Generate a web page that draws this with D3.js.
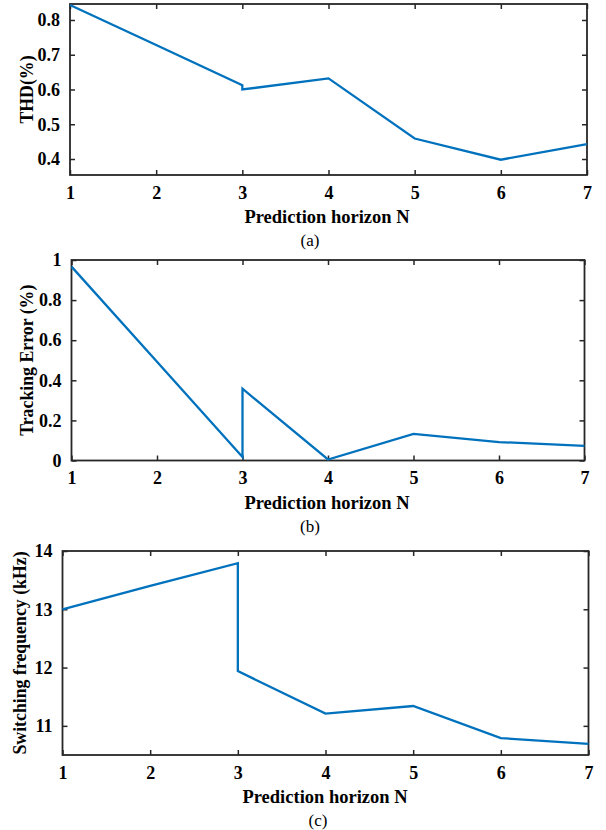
<!DOCTYPE html>
<html>
<head>
<meta charset="utf-8">
<script src="https://cdn.jsdelivr.net/npm/d3@7"></script>
<style>
  body { margin: 0; background: #fff; }
  svg text { font-family: "Liberation Serif", "Times New Roman", serif !important; fill: #000; }
  .tick text { font-size: 18px; font-weight: bold; }
</style>
</head>
<body>
<svg id="chart" width="606" height="830"></svg>
<script>
// prediction horizon (3 repeated: the curves jump there)
var horizon = [1, 2, 3, 3, 4, 5, 6, 7];
var thd = [0.843, 0.728, 0.612, 0.600, 0.632, 0.459, 0.398, 0.443];
var trackErr = [0.967, 0.492, 0.017, 0.358, 0.005, 0.133, 0.092, 0.073];
var swFreq = [13.0, 13.4, 13.79, 11.94, 11.21, 11.34, 10.79, 10.69];

var xTicks = [1, 2, 3, 4, 5, 6, 7];
var thdTicks = [0.4, 0.5, 0.6, 0.7, 0.8];
var errTicks = [0, 0.2, 0.4, 0.6, 0.8, 1];
var freqTicks = [11, 12, 13, 14];

var svg = d3.select("#chart");

function panel(o) {
  var x = d3.scaleLinear().domain([1, 7]).range([o.left, o.right]);
  var y = d3.scaleLinear().domain(o.ydom).range([o.bottom, o.top]);
  var g = svg.append("g");
  var tk = 5;

  // mirrored ticks, inward like matlab
  g.append("g").attr("transform", "translate(0," + o.bottom + ")")
    .call(d3.axisBottom(x).tickValues(xTicks).tickSize(-tk).tickPadding(11).tickFormat(d3.format("d")));
  g.append("g").attr("transform", "translate(0," + o.top + ")")
    .call(d3.axisTop(x).tickValues(xTicks).tickSize(-tk).tickFormat(""));
  g.append("g").attr("transform", "translate(" + o.left + ",0)")
    .call(d3.axisLeft(y).tickValues(o.yticks).tickSize(-tk).tickPadding(10).tickFormat(d3.format("")));
  g.append("g").attr("transform", "translate(" + o.right + ",0)")
    .call(d3.axisRight(y).tickValues(o.yticks).tickSize(-tk).tickFormat(""));
  g.selectAll(".domain").remove();
  g.selectAll(".tick line").attr("stroke", "#262626").attr("stroke-width", 1.5);

  g.append("rect")
    .attr("x", o.left).attr("y", o.top)
    .attr("width", o.right - o.left).attr("height", o.bottom - o.top)
    .attr("fill", "none").attr("stroke", "#262626").attr("stroke-width", 1.8);

  var line = d3.line().x(function(d) { return x(d[0]); }).y(function(d) { return y(d[1]); });
  g.append("path")
    .datum(horizon.map(function(n, i) { return [n, o.vals[i]]; }))
    .attr("d", line)
    .attr("fill", "none").attr("stroke", "#0072BD").attr("stroke-width", 2.3);

  g.append("text")
    .attr("x", o.titleX).attr("y", o.bottom + 48)
    .attr("text-anchor", "middle").style("font-size", "18.5px").style("font-weight", "bold")
    .text("Prediction horizon N");
  g.append("text")
    .attr("x", o.capX).attr("y", o.bottom + 71)
    .attr("text-anchor", "middle").style("font-size", "17px")
    .text(o.cap);
  g.append("text")
    .attr("transform", "translate(" + o.ylabX + "," + ((o.top + o.bottom) / 2) + ") rotate(-90)")
    .attr("text-anchor", "middle").style("font-size", "17.8px").style("font-weight", "bold")
    .text(o.ylab);
}

panel({ left: 70, right: 587, top: 4, bottom: 175, ydom: [0.354, 0.846], yticks: thdTicks,
        vals: thd, ylab: "THD(%)", ylabX: 33, cap: "(a)", capX: 310, titleX: 327 });
panel({ left: 71.5, right: 584.5, top: 260, bottom: 460.5, ydom: [0, 1], yticks: errTicks,
        vals: trackErr, ylab: "Tracking Error (%)", ylabX: 33, cap: "(b)", capX: 310, titleX: 327 });
panel({ left: 62.5, right: 588.5, top: 551, bottom: 755, ydom: [10.5, 14], yticks: freqTicks,
        vals: swFreq, ylab: "Switching frequency (kHz)", ylabX: 26, cap: "(c)", capX: 318, titleX: 325 });
</script>
</body>
</html>
